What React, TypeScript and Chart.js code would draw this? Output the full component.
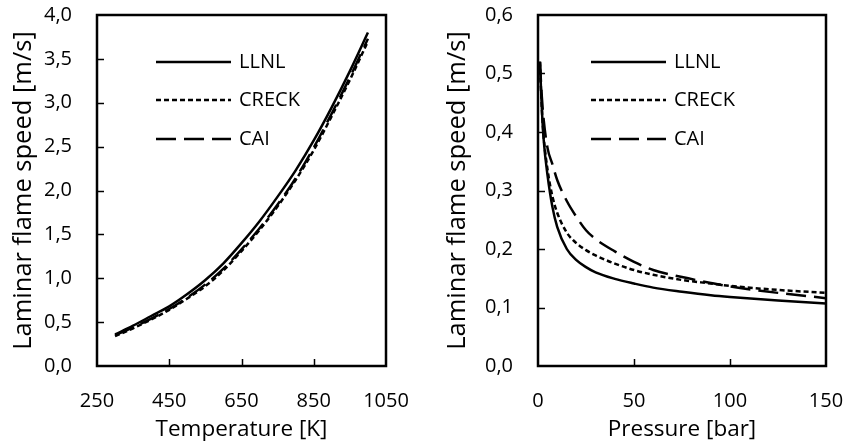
import React, { useEffect, useRef } from "react";
import { Chart, registerables } from "chart.js";
Chart.register(...registerables);

// ---------- data ----------
const seriesNames = ["LLNL", "CRECK", "CAI"];

const temperatureK = [300, 350, 400, 450, 500, 550, 600, 650, 700, 750, 800, 850, 900, 950, 1000];
const tempLLNL = [0.36, 0.46, 0.57, 0.68, 0.82, 0.98, 1.17, 1.4, 1.65, 1.93, 2.23, 2.57, 2.95, 3.36, 3.8];
const tempCRECK = [0.34, 0.43, 0.53, 0.64, 0.77, 0.91, 1.09, 1.31, 1.55, 1.82, 2.12, 2.46, 2.85, 3.26, 3.7];
const tempCAI = [0.35, 0.44, 0.54, 0.65, 0.78, 0.93, 1.11, 1.33, 1.57, 1.84, 2.14, 2.49, 2.88, 3.29, 3.73];

const pressureBar = [1, 2, 3, 5, 7.5, 10, 15, 20, 25, 30, 40, 50, 60, 75, 90, 100, 125, 150];
const presLLNL = [0.52, 0.44, 0.385, 0.325, 0.272, 0.238, 0.2, 0.181, 0.169, 0.16, 0.149, 0.141, 0.134, 0.127, 0.121, 0.118, 0.112, 0.107];
const presCRECK = [0.52, 0.44, 0.39, 0.335, 0.29, 0.262, 0.228, 0.21, 0.198, 0.189, 0.175, 0.164, 0.156, 0.147, 0.141, 0.137, 0.13, 0.125];
const presCAI = [0.52, 0.46, 0.42, 0.372, 0.345, 0.318, 0.282, 0.255, 0.232, 0.217, 0.196, 0.178, 0.164, 0.152, 0.142, 0.136, 0.125, 0.116];

const tempTicks = [250, 450, 650, 850, 1050];
const tempSpeedTicks = [0, 0.5, 1, 1.5, 2, 2.5, 3, 3.5, 4];
const pressTicks = [0, 50, 100, 150];
const pressSpeedTicks = [0, 0.1, 0.2, 0.3, 0.4, 0.5, 0.6];

const xTitleTemp = "Temperature [K]";
const xTitlePress = "Pressure [bar]";
const yTitle = "Laminar flame speed [m/s]";

// ---------- styles ----------
const FONT = '"Open Sans", sans-serif';
const dashes: number[][] = [[], [5, 3], [20, 8]];

function toPoints(xs: number[], ys: number[]) {
  return xs.map((x, i) => ({ x, y: ys[i] }));
}

function framePlugin() {
  return {
    id: "frame",
    afterDraw(chart: any) {
      const { ctx, chartArea } = chart;
      const xs = chart.scales.x;
      const ys = chart.scales.y;
      ctx.save();
      ctx.strokeStyle = "#000";
      ctx.lineWidth = 1.5;
      ctx.setLineDash([]);
      xs.ticks.forEach((t: any) => {
        if (t.value <= xs.min || t.value >= xs.max) return;
        const px = Math.round(xs.getPixelForValue(t.value)) + 0.5;
        ctx.beginPath();
        ctx.moveTo(px, chartArea.bottom);
        ctx.lineTo(px, chartArea.bottom - 7);
        ctx.stroke();
      });
      ys.ticks.forEach((t: any) => {
        if (t.value <= ys.min || t.value >= ys.max) return;
        const py = Math.round(ys.getPixelForValue(t.value)) + 0.5;
        ctx.beginPath();
        ctx.moveTo(chartArea.left, py);
        ctx.lineTo(chartArea.left + 7, py);
        ctx.stroke();
      });
      ctx.lineWidth = 2.5;
      ctx.strokeRect(chartArea.left, chartArea.top, chartArea.right - chartArea.left, chartArea.bottom - chartArea.top);
      ctx.restore();
    },
  };
}

function legendPlugin(x0: number, x1: number, lx: number, rows: number[]) {
  return {
    id: "insideLegend",
    afterDatasetsDraw(chart: any) {
      const { ctx, chartArea } = chart;
      chart.data.datasets.forEach((ds: any, i: number) => {
        const y = chartArea.top + rows[i];
        ctx.save();
        ctx.strokeStyle = "#000";
        ctx.lineWidth = ds.borderWidth;
        ctx.setLineDash(ds.borderDash || []);
        ctx.beginPath();
        ctx.moveTo(chartArea.left + x0, y);
        ctx.lineTo(chartArea.left + x1, y);
        ctx.stroke();
        ctx.setLineDash([]);
        ctx.fillStyle = "#000";
        ctx.font = `20px ${FONT}`;
        ctx.textBaseline = "middle";
        ctx.textAlign = "left";
        ctx.fillText(ds.label, chartArea.left + lx, y);
        ctx.restore();
      });
    },
  };
}

type PanelProps = {
  width: number;
  xs: number[];
  series: number[][];
  xMin: number;
  xMax: number;
  xTicks: number[];
  yMax: number;
  yTicks: number[];
  xTitle: string;
  yAxisWidth: number;
  rightPad: number;
  yTitlePad: number;
  legend: { x0: number; x1: number; lx: number; rows: number[] };
};

function Panel(p: PanelProps) {
  const ref = useRef<HTMLCanvasElement | null>(null);
  useEffect(() => {
    if (!ref.current) return;
    const chart = new Chart(ref.current, {
      type: "line",
      data: {
        datasets: seriesNames.map((name, i) => ({
          label: name,
          data: toPoints(p.xs, p.series[i]),
          borderColor: "#000",
          backgroundColor: "#000",
          borderWidth: 2.5,
          borderDash: dashes[i],
          pointRadius: 0,
          cubicInterpolationMode: "monotone" as const,
          fill: false,
        })),
      },
      options: {
        responsive: false,
        animation: false,
        events: [],
        layout: { padding: { left: 0, right: p.rightPad, top: 15, bottom: 0 } },
        plugins: { legend: { display: false }, tooltip: { enabled: false } },
        scales: {
          x: {
            type: "linear",
            min: p.xMin,
            max: p.xMax,
            afterBuildTicks: (s: any) => {
              s.ticks = p.xTicks.map((v) => ({ value: v }));
            },
            afterFit: (s: any) => {
              s.height = 82;
              s.paddingLeft = 0;
              s.paddingRight = 0;
            },
            grid: { display: false, drawTicks: false },
            border: { display: false },
            ticks: {
              color: "#000",
              font: { family: FONT, size: 20 },
              padding: 23,
              maxRotation: 0,
              autoSkip: false,
              callback: (v: any) => String(v),
            },
            title: {
              display: true,
              text: p.xTitle,
              color: "#000",
              font: { family: FONT, size: 22.5 },
              padding: { top: 0, bottom: 5 },
            },
          },
          y: {
            type: "linear",
            min: 0,
            max: p.yMax,
            afterBuildTicks: (s: any) => {
              s.ticks = p.yTicks.map((v) => ({ value: v }));
            },
            afterFit: (s: any) => {
              s.width = p.yAxisWidth;
              s.paddingTop = 0;
              s.paddingBottom = 0;
            },
            grid: { display: false, drawTicks: false },
            border: { display: false },
            ticks: {
              color: "#000",
              font: { family: FONT, size: 20 },
              padding: 25,
              autoSkip: false,
              callback: (v: any) => Number(v).toFixed(1).replace(".", ","),
            },
            title: {
              display: true,
              text: yTitle,
              color: "#000",
              font: { family: FONT, size: 25.5 },
              padding: { top: p.yTitlePad, bottom: 0 },
            },
          },
        },
      },
      plugins: [framePlugin(), legendPlugin(p.legend.x0, p.legend.x1, p.legend.lx, p.legend.rows)],
    });
    return () => chart.destroy();
  }, []);
  return <canvas ref={ref} width={p.width} height={448} style={{ display: "block", width: p.width, height: 448 }} />;
}

export default function App() {
  return (
    <div style={{ position: "absolute", left: 0, top: 0, width: 852, height: 448, background: "#fff", display: "flex" }}>
      <Panel
        width={420}
        xs={temperatureK}
        series={[tempLLNL, tempCRECK, tempCAI]}
        xMin={250}
        xMax={1050}
        xTicks={tempTicks}
        yMax={4}
        yTicks={tempSpeedTicks}
        xTitle={xTitleTemp}
        yAxisWidth={97}
        rightPad={34}
        yTitlePad={8}
        legend={{ x0: 59, x1: 134, lx: 142, rows: [47, 85, 124] }}
      />
      <Panel
        width={432}
        xs={pressureBar}
        series={[presLLNL, presCRECK, presCAI]}
        xMin={0}
        xMax={150}
        xTicks={pressTicks}
        yMax={0.6}
        yTicks={pressSpeedTicks}
        xTitle={xTitlePress}
        yAxisWidth={118}
        rightPad={26}
        yTitlePad={22}
        legend={{ x0: 53, x1: 128, lx: 136, rows: [47, 85, 124] }}
      />
    </div>
  );
}
